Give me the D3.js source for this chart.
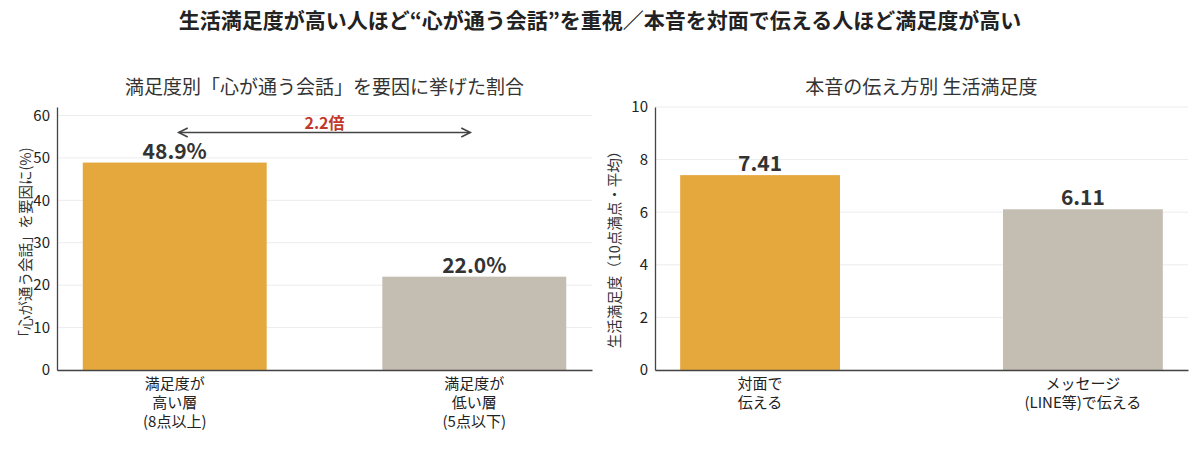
<!DOCTYPE html>
<html>
<head>
<meta charset="utf-8">
<script src="https://cdn.jsdelivr.net/npm/d3@7"></script>
<style>
  body { margin: 0; background: #fff; }
  svg text { font-family: "Noto Sans CJK JP", "Noto Sans", sans-serif; }
</style>
</head>
<body>
<svg id="chart" width="1200" height="454"></svg>
<script>
// データ
const leftCategories = ["満足度が\n高い層\n(8点以上)", "満足度が\n低い層\n(5点以下)"];
const leftValues = [48.9, 22.0];
const leftLabels = ["48.9%", "22.0%"];
const leftTicks = [0, 10, 20, 30, 40, 50, 60];

const rightCategories = ["対面で\n伝える", "メッセージ\n(LINE等)で伝える"];
const rightValues = [7.41, 6.11];
const rightLabels = ["7.41", "6.11"];
const rightTicks = [0, 2, 4, 6, 8, 10];

const ratioText = "2.2倍";
const ratioY = 56;

const colors = ["#E5A83D", "#C4BDB2"];

const svg = d3.select("#chart");

// タイトル
svg.append("text")
    .attr("x", 600).attr("y", 28)
    .attr("text-anchor", "middle")
    .style("font-size", "21px").style("font-weight", "bold")
    .style("fill", "#222")
    .text("生活満足度が高い人ほど“心が通う会話”を重視／本音を対面で伝える人ほど満足度が高い");

function drawPanel(opt) {
    const g = svg.append("g");
    const x = d3.scaleBand()
        .domain(opt.categories)
        .range([opt.x0, opt.x1])
        .paddingInner(opt.pi)
        .paddingOuter(opt.po);
    const y = d3.scaleLinear()
        .domain([0, opt.yMax])
        .range([370, 107]);

    // グリッド
    g.selectAll(".grid")
        .data(opt.ticks)
        .join("line")
        .attr("x1", opt.x0).attr("x2", opt.x1)
        .attr("y1", d => y(d)).attr("y2", d => y(d))
        .attr("stroke", "#ececec").attr("stroke-width", 1);

    // 棒
    g.selectAll(".bar")
        .data(opt.values)
        .join("rect")
        .attr("x", (d, i) => x(opt.categories[i]))
        .attr("width", x.bandwidth())
        .attr("y", d => y(d))
        .attr("height", d => y(0) - y(d))
        .attr("fill", (d, i) => colors[i]);

    // 値ラベル
    g.selectAll(".val")
        .data(opt.values)
        .join("text")
        .attr("x", (d, i) => x(opt.categories[i]) + x.bandwidth() / 2)
        .attr("y", d => y(d) - 4)
        .attr("text-anchor", "middle")
        .style("font-size", "21px").style("font-weight", "bold")
        .style("fill", "#333")
        .text((d, i) => opt.labels[i]);

    // 軸
    const yAxis = g.append("g")
        .attr("transform", "translate(" + opt.x0 + ",0)")
        .call(d3.axisLeft(y).tickValues(opt.ticks).tickSize(0).tickPadding(7));
    yAxis.select(".domain").attr("stroke", "#444").attr("stroke-width", 1.3);
    yAxis.selectAll("text").style("font-size", "15px").style("fill", "#222")
        .style("font-family", "'Noto Sans CJK JP', sans-serif");

    const xAxis = g.append("g")
        .attr("transform", "translate(0,370)")
        .call(d3.axisBottom(x).tickSize(0).tickFormat(""));
    xAxis.select(".domain").attr("stroke", "#444").attr("stroke-width", 1.3);

    // X ラベル（複数行）
    opt.categories.forEach(function (c) {
        const t = g.append("text")
            .attr("text-anchor", "middle")
            .style("font-size", "15px").style("fill", "#222");
        c.split("\n").forEach(function (line, j) {
            t.append("tspan")
                .attr("x", x(c) + x.bandwidth() / 2)
                .attr("y", 389 + j * 19)
                .text(line);
        });
    });

    // サブタイトル
    g.append("text")
        .attr("x", (opt.x0 + opt.x1) / 2).attr("y", 94)
        .attr("text-anchor", "middle")
        .style("font-size", "19px").style("fill", "#333")
        .text(opt.title);

    // Y 軸タイトル
    g.append("text")
        .attr("transform", "translate(" + opt.yTitleX + ",246) rotate(-90)")
        .attr("text-anchor", "middle")
        .style("font-size", "14.5px").style("fill", "#333")
        .text(opt.yTitle);

    return { x: x, y: y, g: g };
}

const left = drawPanel({
    categories: leftCategories, values: leftValues, labels: leftLabels, ticks: leftTicks,
    yMax: 62, x0: 57, x1: 592, pi: 0.386, po: 0.086,
    title: "満足度別「心が通う会話」を要因に挙げた割合",
    yTitle: "「心が通う会話」を要因に(%)", yTitleX: 31
});

drawPanel({
    categories: rightCategories, values: rightValues, labels: rightLabels, ticks: rightTicks,
    yMax: 10, x0: 655, x1: 1188, pi: 0.505, po: 0.078,
    title: "本音の伝え方別 生活満足度",
    yTitle: "生活満足度（10点満点・平均）", yTitleX: 620
});

// 2.2倍 の矢印
const ax0 = left.x(leftCategories[0]) + left.x.bandwidth() / 2 + 4;
const ax1 = left.x(leftCategories[1]) + left.x.bandwidth() / 2 - 4;
const ay = left.y(ratioY);
const arrow = left.g.append("g").attr("stroke", "#444").attr("stroke-width", 1.6).attr("fill", "none");
arrow.append("line").attr("x1", ax0).attr("x2", ax1).attr("y1", ay).attr("y2", ay);
arrow.append("path").attr("d", "M" + (ax0 + 9) + "," + (ay - 4.5) + "L" + ax0 + "," + ay + "L" + (ax0 + 9) + "," + (ay + 4.5));
arrow.append("path").attr("d", "M" + (ax1 - 9) + "," + (ay - 4.5) + "L" + ax1 + "," + ay + "L" + (ax1 - 9) + "," + (ay + 4.5));
left.g.append("text")
    .attr("x", (ax0 + ax1) / 2).attr("y", ay - 3)
    .attr("text-anchor", "middle")
    .style("font-size", "16px").style("font-weight", "bold")
    .style("fill", "#C0392B")
    .text(ratioText);
</script>
</body>
</html>
